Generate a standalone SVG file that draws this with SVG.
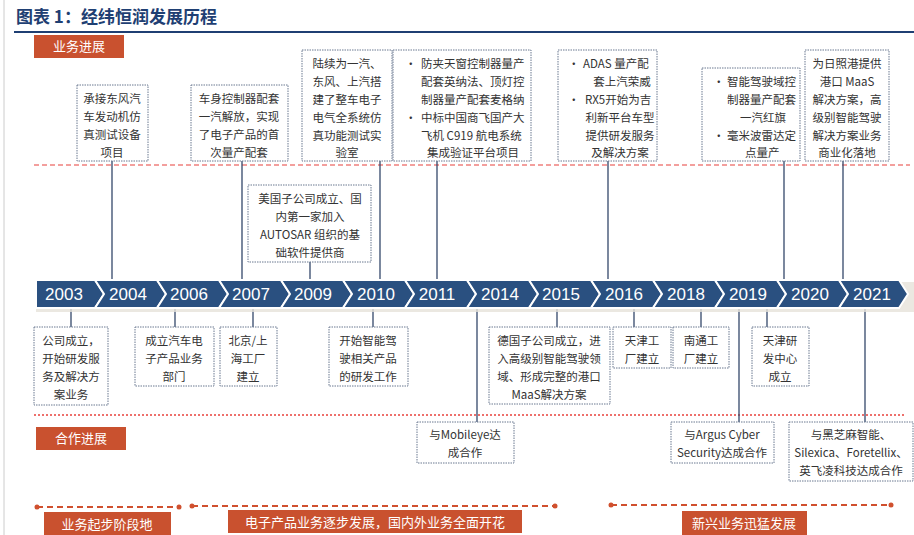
<svg xmlns="http://www.w3.org/2000/svg" width="914" height="535" viewBox="0 0 914 535">
<style>
text{font-family:"Noto Sans CJK SC","Noto Sans",sans-serif;}
.t{font-size:11.5px;fill:#333;text-anchor:middle;}
.tl{font-size:11.5px;fill:#333;}
.box{fill:#fff;stroke:#6a7890;stroke-width:1;stroke-dasharray:1.5 1;}
.ln{stroke:#34486a;stroke-width:1.3;fill:none;}
.chev{fill:#2a5080;stroke:#fff;stroke-width:2;}
.yr{font-family:"Liberation Sans","Noto Sans",sans-serif;font-size:17px;fill:#fff;text-anchor:middle;}
.red{fill:#c9512f;}
.wt{font-size:13px;fill:#fff;text-anchor:middle;}
.ph{stroke:#d0502e;stroke-width:2;stroke-dasharray:6 4;fill:none;}
</style>
<rect width="914" height="535" fill="#fff"/>
<line x1="4" y1="0" x2="4" y2="535" stroke="#ccc" stroke-width="1"/>
<text x="16" y="23" style="font-size:17px;font-weight:bold;fill:#1f3f73">图表 1：经纬恒润发展历程</text>
<line x1="14" y1="32" x2="914" y2="32" stroke="#1f3f73" stroke-width="2"/>
<g id="lbl-biz"><rect class="red" x="34" y="35" width="90" height="23"/><text class="wt" x="79" y="51">业务进展</text></g>
<line x1="34" y1="165" x2="910" y2="165" stroke="#e8413c" stroke-width="1.2" stroke-dasharray="5 3"/>
<line x1="34" y1="415" x2="906" y2="415" stroke="#e8413c" stroke-width="1.5" stroke-dasharray="2 2"/>
<g id="lbl-coop"><rect class="red" x="36" y="427" width="90" height="23"/><text class="wt" x="81" y="443">合作进展</text></g>

<g id="connectors">
<line class="ln" x1="112" y1="161" x2="112" y2="282"/>
<line class="ln" x1="242" y1="161" x2="242" y2="282"/>
<line class="ln" x1="380" y1="161" x2="380" y2="282"/>
<line class="ln" x1="437" y1="161" x2="437" y2="282"/>
<line class="ln" x1="608" y1="161" x2="608" y2="282"/>
<line class="ln" x1="784" y1="161" x2="784" y2="282"/>
<line class="ln" x1="843" y1="161" x2="843" y2="282"/>
<line class="ln" x1="310" y1="262" x2="310" y2="282"/>
<line class="ln" x1="71" y1="306" x2="71" y2="327"/>
<line class="ln" x1="175" y1="306" x2="175" y2="327"/>
<line class="ln" x1="253" y1="306" x2="253" y2="327"/>
<line class="ln" x1="373" y1="306" x2="373" y2="327"/>
<line class="ln" x1="557" y1="306" x2="557" y2="327"/>
<line class="ln" x1="634" y1="306" x2="634" y2="327"/>
<line class="ln" x1="701" y1="306" x2="701" y2="327"/>
<line class="ln" x1="767" y1="306" x2="767" y2="327"/>
<line class="ln" x1="477" y1="306" x2="477" y2="422"/>
<line class="ln" x1="739" y1="306" x2="739" y2="422"/>
<line class="ln" x1="865" y1="306" x2="865" y2="422"/>
</g>

<g id="timeline">
<rect x="36" y="282" width="878" height="30" fill="#e6e2da" opacity="0.8"/>
<polygon class="chev" points="36,280 95,280 104,294 95,308 36,308"/>
<polygon class="chev" points="95,280 157,280 166,294 157,308 95,308 104,294"/>
<polygon class="chev" points="157,280 219,280 228,294 219,308 157,308 166,294"/>
<polygon class="chev" points="219,280 281,280 290,294 281,308 219,308 228,294"/>
<polygon class="chev" points="281,280 343,280 352,294 343,308 281,308 290,294"/>
<polygon class="chev" points="343,280 405,280 414,294 405,308 343,308 352,294"/>
<polygon class="chev" points="405,280 467,280 476,294 467,308 405,308 414,294"/>
<polygon class="chev" points="467,280 529,280 538,294 529,308 467,308 476,294"/>
<polygon class="chev" points="529,280 591,280 600,294 591,308 529,308 538,294"/>
<polygon class="chev" points="591,280 653,280 662,294 653,308 591,308 600,294"/>
<polygon class="chev" points="653,280 715,280 724,294 715,308 653,308 662,294"/>
<polygon class="chev" points="715,280 777,280 786,294 777,308 715,308 724,294"/>
<polygon class="chev" points="777,280 839,280 848,294 839,308 777,308 786,294"/>
<polygon class="chev" points="839,280 899,280 908,294 899,308 839,308 848,294"/>
<text class="yr" x="64" y="300">2003</text>
<text class="yr" x="128" y="300">2004</text>
<text class="yr" x="189" y="300">2006</text>
<text class="yr" x="251" y="300">2007</text>
<text class="yr" x="313" y="300">2009</text>
<text class="yr" x="376" y="300">2010</text>
<text class="yr" x="437" y="300">2011</text>
<text class="yr" x="500" y="300">2014</text>
<text class="yr" x="561" y="300">2015</text>
<text class="yr" x="624" y="300">2016</text>
<text class="yr" x="686" y="300">2018</text>
<text class="yr" x="748" y="300">2019</text>
<text class="yr" x="810" y="300">2020</text>
<text class="yr" x="872" y="300">2021</text>
</g>

<g id="n2004"><rect class="box" x="77" y="85" width="71" height="76"/>
<text class="t" x="112" y="103">承接东风汽</text><text class="t" x="112" y="121">车发动机仿</text><text class="t" x="112" y="139">真测试设备</text><text class="t" x="112" y="157">项目</text></g>
<g id="n2007a"><rect class="box" x="191" y="85" width="97" height="76"/>
<text class="t" x="239" y="103">车身控制器配套</text><text class="t" x="239" y="121">一汽解放，实现</text><text class="t" x="239" y="139">了电子产品的首</text><text class="t" x="239" y="157">次量产配套</text></g>
<g id="n2010a"><rect class="box" x="302" y="50" width="90" height="111"/>
<text class="t" x="347" y="68">陆续为一汽、</text><text class="t" x="347" y="86">东风、上汽搭</text><text class="t" x="347" y="104">建了整车电子</text><text class="t" x="347" y="122">电气全系统仿</text><text class="t" x="347" y="140">真功能测试实</text><text class="t" x="347" y="157">验室</text></g>
<g id="n2011"><rect class="box" x="393" y="50" width="138" height="111"/>
<text class="tl" x="405" y="68">•</text><text class="tl" x="421" y="68">防夹天窗控制器量产</text>
<text class="tl" x="421" y="86">配套英纳法、顶灯控</text><text class="tl" x="421" y="104">制器量产配套麦格纳</text>
<text class="tl" x="405" y="122">•</text><text class="tl" x="421" y="122">中标中国商飞国产大</text>
<text class="tl" x="421" y="140">飞机 C919 航电系统</text><text class="t" x="473" y="157">集成验证平台项目</text></g>
<g id="n2016a"><rect class="box" x="558" y="50" width="99" height="111"/>
<text class="tl" x="568" y="68">•</text><text class="tl" x="583" y="68">ADAS 量产配</text><text class="t" x="622" y="86">套上汽荣威</text>
<text class="tl" x="568" y="104">•</text><text class="tl" x="585" y="104">RX5开始为吉</text>
<text class="t" x="620" y="122">利新平台车型</text><text class="t" x="620" y="140">提供研发服务</text><text class="t" x="620" y="157">及解决方案</text></g>
<g id="n2019a"><rect class="box" x="702" y="68" width="98" height="93"/>
<text class="tl" x="713" y="86">•</text><text class="tl" x="727" y="86">智能驾驶域控</text><text class="tl" x="727" y="104">制器量产配套</text><text class="tl" x="740" y="122">一汽红旗</text>
<text class="tl" x="713" y="140">•</text><text class="tl" x="727" y="140">毫米波雷达定</text><text class="tl" x="745" y="157">点量产</text></g>
<g id="n2020a"><rect class="box" x="805" y="50" width="84" height="111"/>
<text class="t" x="847" y="68">为日照港提供</text><text class="t" x="847" y="86">港口 MaaS</text><text class="t" x="847" y="104">解决方案，高</text><text class="t" x="847" y="122">级别智能驾驶</text><text class="t" x="847" y="140">解决方案业务</text><text class="t" x="847" y="157">商业化落地</text></g>
<g id="n2009"><rect class="box" x="248" y="185" width="123" height="77"/>
<text class="t" x="310" y="203">美国子公司成立、国</text><text class="t" x="310" y="221">内第一家加入</text><text class="t" x="310" y="239">AUTOSAR 组织的基</text><text class="t" x="310" y="257">础软件提供商</text></g>

<g id="n2003"><rect class="box" x="34" y="327" width="74" height="78"/>
<text class="t" x="71" y="345">公司成立，</text><text class="t" x="71" y="363">开始研发服</text><text class="t" x="71" y="381">务及解决方</text><text class="t" x="71" y="399">案业务</text></g>
<g id="n2006"><rect class="box" x="135" y="327" width="79" height="59"/>
<text class="t" x="174" y="345">成立汽车电</text><text class="t" x="174" y="363">子产品业务</text><text class="t" x="174" y="381">部门</text></g>
<g id="n2007b"><rect class="box" x="220" y="327" width="57" height="59"/>
<text class="t" x="248" y="345">北京/上</text><text class="t" x="248" y="363">海工厂</text><text class="t" x="248" y="381">建立</text></g>
<g id="n2010b"><rect class="box" x="329" y="327" width="79" height="59"/>
<text class="t" x="368" y="345">开始智能驾</text><text class="t" x="368" y="363">驶相关产品</text><text class="t" x="368" y="381">的研发工作</text></g>
<g id="n2015"><rect class="box" x="489" y="327" width="121" height="77"/>
<text class="t" x="549" y="345">德国子公司成立，进</text><text class="t" x="549" y="363">入高级别智能驾驶领</text><text class="t" x="549" y="381">域、形成完整的港口</text><text class="t" x="549" y="399">MaaS解决方案</text></g>
<g id="n2016b"><rect class="box" x="613" y="327" width="58" height="41"/>
<text class="t" x="642" y="345">天津工</text><text class="t" x="642" y="363">厂建立</text></g>
<g id="n2018"><rect class="box" x="673" y="327" width="56" height="41"/>
<text class="t" x="701" y="345">南通工</text><text class="t" x="701" y="363">厂建立</text></g>
<g id="n2020b"><rect class="box" x="752" y="327" width="57" height="59"/>
<text class="t" x="780" y="345">天津研</text><text class="t" x="780" y="363">发中心</text><text class="t" x="780" y="381">成立</text></g>

<g id="c2014"><rect class="box" x="417" y="422" width="97" height="41"/>
<text class="t" x="465" y="439">与Mobileye达</text><text class="t" x="465" y="457">成合作</text></g>
<g id="c2019"><rect class="box" x="671" y="422" width="103" height="41"/>
<text class="t" x="722" y="439">与Argus Cyber</text><text class="t" x="722" y="457">Security达成合作</text></g>
<g id="c2021"><rect class="box" x="789" y="422" width="124" height="59"/>
<text class="t" x="851" y="439">与黑芝麻智能、</text><text class="t" x="851" y="457">Silexica、Foretellix、</text><text class="t" x="851" y="475">英飞凌科技达成合作</text></g>

<g id="phases">
<line class="ph" x1="37" y1="507" x2="179" y2="507"/><circle cx="37" cy="507" r="2.5" fill="#d0502e"/><circle cx="179" cy="507" r="2.5" fill="#d0502e"/>
<line class="ph" x1="192" y1="506" x2="555" y2="506"/><circle cx="192" cy="506" r="2.5" fill="#d0502e"/><circle cx="555" cy="506" r="2.5" fill="#d0502e"/>
<line class="ph" x1="611" y1="505" x2="891" y2="505"/><circle cx="611" cy="505" r="2.5" fill="#d0502e"/><circle cx="891" cy="505" r="2.5" fill="#d0502e"/>
<rect class="red" x="44" y="512" width="127" height="23"/><text class="wt" x="107" y="529">业务起步阶段地</text>
<rect class="red" x="228" y="510" width="294" height="23"/><text class="wt" x="375" y="527">电子产品业务逐步发展，国内外业务全面开花</text>
<rect class="red" x="682" y="511" width="125" height="24"/><text class="wt" x="744" y="528">新兴业务迅猛发展</text>
</g>
</svg>
